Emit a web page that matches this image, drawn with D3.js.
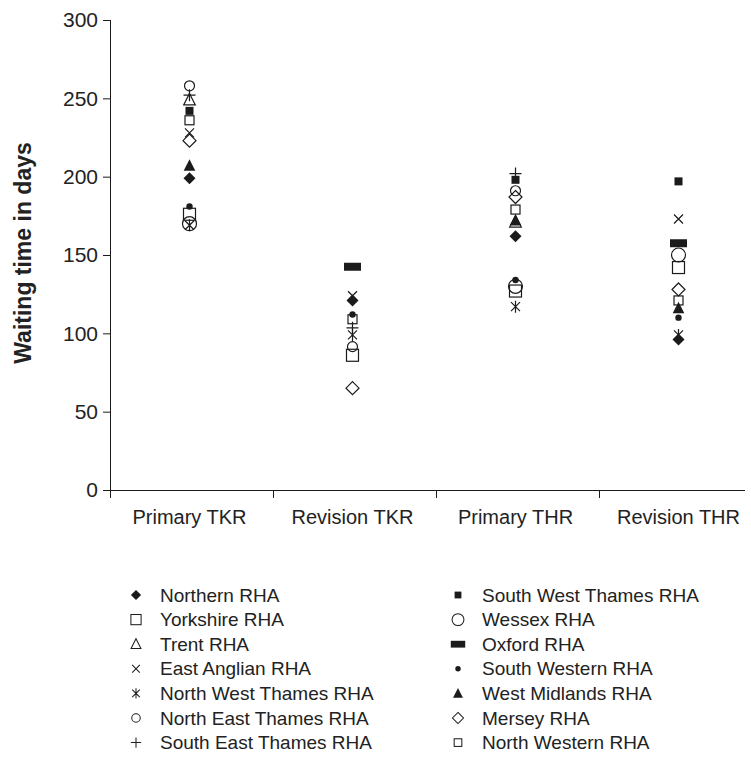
<!DOCTYPE html>
<html>
<head>
<meta charset="utf-8">
<script src="https://cdn.jsdelivr.net/npm/d3@7"></script>
<style>
  html, body { margin: 0; padding: 0; background: #fff; }
  svg { display: block; font-family: "Liberation Sans", Arial, Helvetica, sans-serif; }
</style>
</head>
<body>
<svg id="chart" width="751" height="757"></svg>
<script>
// Procedure categories on the x axis
const categories = ["Primary TKR", "Revision TKR", "Primary THR", "Revision THR"];

// Y axis ticks (days)
const yTicks = [0, 50, 100, 150, 200, 250, 300];

// Regional health authorities, in legend order (left column, then right column)
const regions = [
  "Northern RHA", "Yorkshire RHA", "Trent RHA", "East Anglian RHA",
  "North West Thames RHA", "North East Thames RHA", "South East Thames RHA",
  "South West Thames RHA", "Wessex RHA", "Oxford RHA", "South Western RHA",
  "West Midlands RHA", "Mersey RHA", "North Western RHA"
];

// Mean waiting time in days per region, one value per category (null = not shown)
const northern        = [199, 121, 162, 96];
const yorkshire       = [176, 86, 127, 142];
const trent           = [249, null, 171, null];
const eastAnglian     = [228, 124, null, 173];
const nwThames        = [169, 99, 117, 99];
const neThames        = [258, 91.5, 191, null];
const seThames        = [252, 103.5, 202, null];
const swThames        = [242, null, 198, 197];
const wessex          = [170, null, 130, 150];
const oxford          = [null, 142.5, null, 157.5];
const southWestern    = [181, 112, 134, 110];
const westMidlands    = [207, null, 172, 116];
const mersey          = [223, 65, 187, 128];
const northWestern    = [236, 109, 179, 121];

const seriesValues = [
  northern, yorkshire, trent, eastAnglian, nwThames, neThames, seThames,
  swThames, wessex, oxford, southWestern, westMidlands, mersey, northWestern
];

// Marker kind for each region
const markerKinds = [
  "diamondFilled", "squareOpenLarge", "triangleOpen", "cross", "asterisk",
  "circleOpenSmall", "plus", "squareFilledSmall", "circleOpenLarge",
  "rectFilled", "dot", "triangleFilled", "diamondOpen", "squareOpenSmall"
];

const INK = "#1b1b1b";
const TEXT = "#222";

const svg = d3.select("#chart");

const x = d3.scaleBand().domain(categories).range([110, 762]).padding(0);
const y = d3.scaleLinear().domain([0, 300]).range([490, 20]);

// ---- axes ----
const yAxis = d3.axisLeft(y).tickValues(yTicks).tickSize(7).tickSizeOuter(0).tickPadding(5);
const gy = svg.append("g").attr("transform", "translate(110,0)").call(yAxis);
gy.select(".domain").remove();
gy.selectAll(".tick line").attr("stroke", INK).attr("stroke-width", 1);
gy.selectAll(".tick text")
  .attr("fill", TEXT).style("font-size", "21px");

// vertical axis line, extending slightly below the baseline
svg.append("line")
  .attr("x1", 110.5).attr("x2", 110.5)
  .attr("y1", y(300)).attr("y2", y(0) + 8)
  .attr("stroke", INK).attr("stroke-width", 1);

// horizontal axis line
svg.append("line")
  .attr("x1", 103).attr("x2", 745)
  .attr("y1", y(0) + 0.5).attr("y2", y(0) + 0.5)
  .attr("stroke", INK).attr("stroke-width", 1);

// category boundary ticks
svg.selectAll(".xsep")
  .data(categories.slice(1))
  .join("line")
  .attr("x1", d => Math.round(x(d)) + 0.5)
  .attr("x2", d => Math.round(x(d)) + 0.5)
  .attr("y1", y(0)).attr("y2", y(0) + 8)
  .attr("stroke", INK).attr("stroke-width", 1);

const xAxis = d3.axisBottom(x).tickSize(0).tickPadding(20);
const gx = svg.append("g").attr("transform", `translate(-2,${y(0)})`).call(xAxis);
gx.select(".domain").remove();
gx.selectAll(".tick text").attr("fill", TEXT).style("font-size", "20px");

// y axis title
svg.append("text")
  .attr("transform", `translate(31,253) rotate(-90)`)
  .attr("text-anchor", "middle")
  .attr("fill", TEXT)
  .style("font-size", "23px")
  .style("font-weight", "bold")
  .text("Waiting time in days");

// ---- marker drawing ----
function drawMarker(g, kind) {
  const sw = 1.2;
  switch (kind) {
    case "diamondFilled":
      g.append("path").attr("d", "M0,-6L6,0L0,6L-6,0Z").attr("fill", INK);
      break;
    case "diamondOpen":
      g.append("path").attr("d", "M0,-6.5L6.5,0L0,6.5L-6.5,0Z")
        .attr("fill", "none").attr("stroke", INK).attr("stroke-width", sw);
      break;
    case "squareOpenLarge":
      g.append("rect").attr("x", -6).attr("y", -6).attr("width", 12).attr("height", 12)
        .attr("fill", "none").attr("stroke", INK).attr("stroke-width", sw);
      break;
    case "squareOpenSmall":
      g.append("rect").attr("x", -4.5).attr("y", -4.5).attr("width", 9).attr("height", 9)
        .attr("fill", "none").attr("stroke", INK).attr("stroke-width", sw);
      break;
    case "squareFilledSmall":
      g.append("rect").attr("x", -4).attr("y", -4).attr("width", 8).attr("height", 8)
        .attr("fill", INK);
      break;
    case "rectFilled":
      g.append("rect").attr("x", -8.5).attr("y", -4).attr("width", 17).attr("height", 8)
        .attr("fill", INK);
      break;
    case "triangleOpen":
      g.append("path").attr("d", "M0,-6.5L5.8,5L-5.8,5Z")
        .attr("fill", "none").attr("stroke", INK).attr("stroke-width", sw);
      break;
    case "triangleFilled":
      g.append("path").attr("d", "M0,-6.5L5.8,5L-5.8,5Z").attr("fill", INK);
      break;
    case "cross":
      g.append("path").attr("d", "M-4.5,-4.5L4.5,4.5M4.5,-4.5L-4.5,4.5")
        .attr("stroke", INK).attr("stroke-width", sw);
      break;
    case "plus":
      g.append("path").attr("d", "M-6,0L6,0M0,-6L0,6")
        .attr("stroke", INK).attr("stroke-width", sw);
      break;
    case "asterisk":
      g.append("path").attr("d", "M-4.5,-4.5L4.5,4.5M4.5,-4.5L-4.5,4.5M0,-6L0,6")
        .attr("stroke", INK).attr("stroke-width", sw);
      break;
    case "circleOpenSmall":
      g.append("circle").attr("r", 5)
        .attr("fill", "none").attr("stroke", INK).attr("stroke-width", sw);
      break;
    case "circleOpenLarge":
      g.append("circle").attr("r", 7)
        .attr("fill", "none").attr("stroke", INK).attr("stroke-width", sw);
      break;
    case "dot":
      g.append("circle").attr("r", 3.2).attr("fill", INK);
      break;
  }
}

// ---- data points ----
const points = [];
seriesValues.forEach((vals, si) => {
  vals.forEach((v, ci) => {
    if (v != null) points.push({ si, cat: categories[ci], v });
  });
});

const plot = svg.append("g");
plot.selectAll("g.pt")
  .data(points)
  .join("g")
  .attr("class", "pt")
  .attr("transform", d => `translate(${x(d.cat) + x.bandwidth() / 2 - 2},${y(d.v)})`)
  .each(function (d) { drawMarker(d3.select(this), markerKinds[d.si]); });

// ---- legend ----
const rowsPerCol = 7;
const legendTop = 595;
const rowStep = 24.6;
const colX = [136, 458];
const textOffset = 24;

const legend = svg.append("g");
regions.forEach((name, i) => {
  const col = Math.floor(i / rowsPerCol);
  const row = i % rowsPerCol;
  const gy0 = legendTop + row * rowStep;
  const item = legend.append("g").attr("transform", `translate(${colX[col]},${gy0})`);
  const mk = item.append("g").attr("transform", "scale(0.85)");
  drawMarker(mk, markerKinds[i]);
  item.append("text")
    .attr("x", textOffset).attr("y", 0).attr("dy", "0.35em")
    .attr("fill", TEXT)
    .style("font-size", "19px")
    .text(name);
});
</script>
</body>
</html>
